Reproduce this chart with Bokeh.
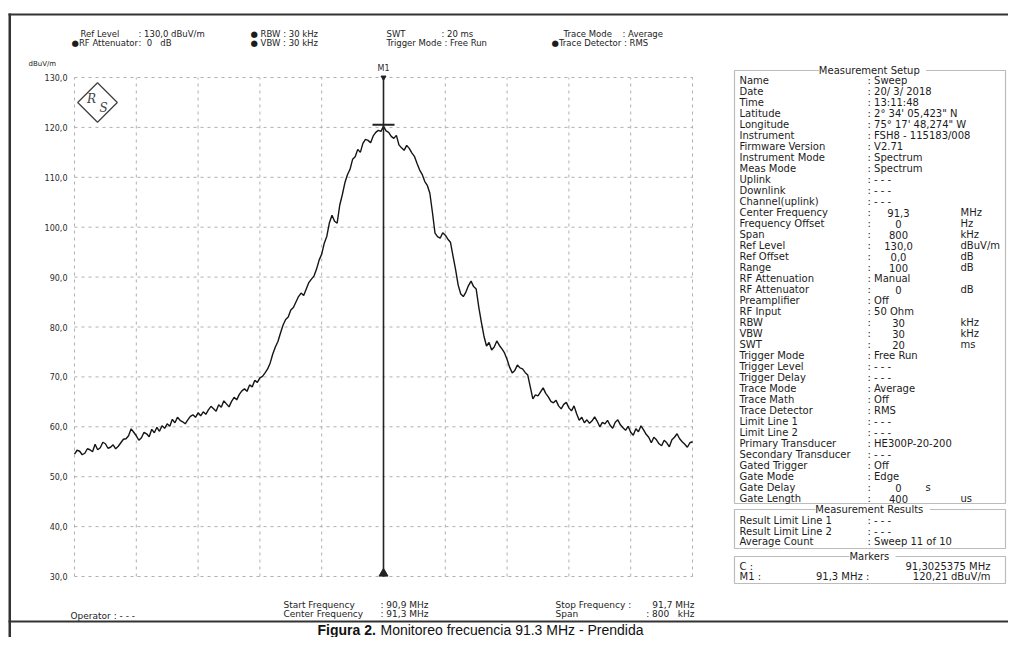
import numpy as np
from bokeh.plotting import figure
from bokeh.models import (Range1d, FixedTicker, CustomJSTickFormatter, Label, LabelSet,
                          ColumnDataSource, BoxAnnotation, LinearAxis)
from bokeh.core.properties import value
from bokeh.embed import file_html
from bokeh.resources import INLINE

# ---------------- data ----------------
start_mhz = 90.9
stop_mhz = 91.7
ref_level = 130.0
range_db = 100.0
marker_mhz = 91.3
marker_level = 120.21

trace_db = [
    54.5, 55.3, 55.1, 54.4, 54.7, 55.6, 55.4, 55.0, 56.5, 55.4,
    55.8, 56.9, 56.6, 55.7, 55.9, 56.4, 55.6, 56.1, 56.8, 57.5,
    57.6, 58.2, 59.6, 58.9, 58.2, 57.3, 57.8, 58.9, 58.6, 58.0,
    59.5, 58.8, 59.9, 59.1, 60.2, 59.7, 60.6, 60.1, 61.5, 60.8,
    61.9, 61.3, 61.0, 60.6, 61.4, 62.1, 62.4, 61.9, 62.8, 62.2,
    63.0, 62.5, 63.4, 64.1, 63.6, 63.1, 64.4, 63.9, 65.2, 64.6,
    64.0, 65.1, 65.9, 65.4, 66.5, 67.2, 67.6, 67.1, 68.4, 68.0,
    69.3, 68.9, 69.8, 70.1, 70.8, 71.6, 72.8, 74.6, 76.0, 77.1,
    78.8, 80.4, 81.5, 82.0, 83.4, 83.9, 85.0, 86.1, 86.8, 86.3,
    87.6, 88.9, 89.6, 90.2, 91.6, 93.4, 94.6, 96.8, 98.2, 100.9,
    102.4, 101.2, 100.8, 104.4, 106.5, 108.9, 110.5, 111.6, 113.6, 114.1,
    115.6, 115.0, 116.8, 117.6, 117.4, 116.9, 118.3, 119.0, 119.4, 119.2,
    120.21, 119.3, 119.0, 118.2, 117.8, 118.4, 116.5, 115.9, 115.4, 116.4,
    115.8, 114.9, 114.2, 112.8, 111.5, 110.6, 109.2, 108.4, 106.8, 103.0,
    98.8, 98.1, 97.8, 98.9, 98.4, 97.6, 97.0, 94.2, 91.5, 88.4,
    86.6, 86.1, 87.0, 88.3, 89.2, 88.1, 87.6, 84.0, 81.0, 78.2,
    76.2, 76.9, 75.4, 76.0, 77.2, 76.3, 75.6, 74.8, 73.5, 71.9,
    70.8, 71.3, 72.4, 71.8, 71.6, 70.9, 70.4, 68.0, 65.6, 66.4,
    66.2, 67.0, 67.8, 66.7, 66.0, 65.1, 64.8, 65.3, 64.2, 63.6,
    64.5, 64.9, 63.8, 63.2, 64.2, 62.6, 61.3, 61.9, 60.8, 61.4,
    60.7, 61.2, 62.0, 61.1, 60.0, 60.9, 60.6, 61.3, 60.3, 59.7,
    60.9, 61.4, 60.4, 59.8, 59.3, 60.1, 58.9, 58.3, 59.6, 59.0,
    60.2, 59.4, 58.5, 57.9, 56.8, 57.9, 57.4, 56.6, 56.2, 57.3,
    56.8, 56.0, 57.4, 57.9, 58.6, 57.6, 57.0, 56.5, 55.9, 56.8,
    57.0,
]
freq_mhz = np.linspace(start_mhz, stop_mhz, len(trace_db))

y_ticks = [30, 40, 50, 60, 70, 80, 90, 100, 110, 120, 130]
x_grid_ticks = [90.90, 90.98, 91.06, 91.14, 91.22, 91.30, 91.38, 91.46, 91.54, 91.62, 91.70]

NB = "\u00a0"
header_items = [
    ("Ref Level", ": 130,0 dBuV/m"),
    ("\u25cfRF Attenuator", ":" + NB * 2 + "0" + NB * 3 + "dB"),
    ("\u25cf RBW : 30 kHz", ""),
    ("\u25cf VBW : 30 kHz", ""),
    ("SWT", ": 20 ms"),
    ("Trigger Mode : Free Run", ""),
    ("Trace Mode", ": Average"),
    ("\u25cfTrace Detector : RMS", ""),
]

setup_labels = ["Name", "Date", "Time", "Latitude", "Longitude", "Instrument",
                "Firmware Version", "Instrument Mode", "Meas Mode", "Uplink", "Downlink",
                "Channel(uplink)", "Center Frequency", "Frequency Offset", "Span", "Ref Level",
                "Ref Offset", "Range", "RF Attenuation", "RF Attenuator", "Preamplifier",
                "RF Input", "RBW", "VBW", "SWT", "Trigger Mode", "Trigger Level", "Trigger Delay",
                "Trace Mode", "Trace Math", "Trace Detector", "Limit Line 1", "Limit Line 2",
                "Primary Transducer", "Secondary Transducer", "Gated Trigger", "Gate Mode",
                "Gate Delay", "Gate Length"]
setup_values = ["Sweep", "20/ 3/ 2018", "13:11:48", "2\u00b0 34' 05,423\" N",
                "75\u00b0 17' 48,274\" W", "FSH8 - 115183/008", "V2.71", "Spectrum", "Spectrum",
                "- - -", "- - -", "- - -", "91,3", "0", "800", "130,0", "0,0", "100", "Manual",
                "0", "Off", "50 Ohm", "30", "30", "20", "Free Run", "- - -", "- - -", "Average",
                "Off", "RMS", "- - -", "- - -", "HE300P-20-200", "- - -", "Off", "Edge", "0", "400"]
setup_units = ["", "", "", "", "", "", "", "", "", "", "", "", "MHz", "Hz", "kHz", "dBuV/m",
               "dB", "dB", "", "dB", "", "", "kHz", "kHz", "ms", "", "", "", "", "", "", "", "",
               "", "", "", "", "s", "us"]

result_labels = ["Result Limit Line 1", "Result Limit Line 2", "Average Count"]
result_values = [": - - -", ": - - -", ": Sweep 11 of 10"]

marker_rows = [("C  :", "", "91,3025375 MHz"), ("M1 :", "91,3 MHz  :", "120,21 dBuV/m")]

footer_left = [("Start Frequency", ": 90,9 MHz"), ("Center Frequency", ": 91,3 MHz")]
footer_right = [("Stop Frequency :", "91,7 MHz"), ("Span", ": 800" + NB * 3 + "kHz")]
operator_text = "Operator : - - -"
caption_bold = "Figura 2."
caption_rest = "Monitoreo frecuencia 91.3 MHz - Prendida"

# ---------------- layout (canvas pixels) ----------------
W, H = 1008, 637
GL, GR, GT, GB = 74, 692, 77, 576      # spectrum grid area
px_per_mhz = (GR - GL) / (stop_mhz - start_mhz)
db_per_px = range_db / (GB - GT)
y_bottom = ref_level - range_db

x_range = Range1d(start_mhz - GL / px_per_mhz, stop_mhz + (W - GR) / px_per_mhz)
y_range = Range1d(y_bottom - (H - GB) * db_per_px, ref_level + GT * db_per_px)


def sx(px):
    return px


def sy(py):
    return H - py


p = figure(width=W, height=H, x_range=x_range, y_range=y_range,
           x_axis_location=None, y_axis_location=None,
           toolbar_location=None, output_backend="svg",
           min_border_left=0, min_border_right=0, min_border_top=0, min_border_bottom=0)
p.outline_line_color = None
p.background_fill_color = "white"
p.border_fill_color = "white"
p.grid.visible = False

# y axis drawn at the left edge of the grid
ax = LinearAxis(fixed_location=start_mhz, ticker=FixedTicker(ticks=y_ticks),
                formatter=CustomJSTickFormatter(code="return tick.toFixed(1).replace('.', ',');"))
ax.axis_line_color = None
ax.major_tick_in = 0
ax.major_tick_out = 0
ax.minor_tick_line_color = None
ax.major_label_text_font = "DejaVu Sans"
ax.major_label_text_font_size = "8px"
ax.major_label_text_color = "#2a2a2a"
ax.major_label_standoff = 7
p.add_layout(ax, "left")

# grid lines
p.segment(x0=x_grid_ticks, y0=[y_bottom] * len(x_grid_ticks), x1=x_grid_ticks,
          y1=[ref_level] * len(x_grid_ticks), line_color="#b0b0b0", line_width=1,
          line_dash="3 4")
p.segment(x0=[start_mhz] * len(y_ticks), y0=y_ticks, x1=[stop_mhz] * len(y_ticks), y1=y_ticks,
          line_color="#b0b0b0", line_width=1, line_dash="3 4")

# trace
p.line(freq_mhz, trace_db, line_color="#151515", line_width=1.4)

# marker M1
p.segment(x0=[marker_mhz], y0=[y_bottom], x1=[marker_mhz], y1=[ref_level],
          line_color="#222222", line_width=1.6)
bar_half = 11 / px_per_mhz
p.segment(x0=[marker_mhz - bar_half], y0=[marker_level + 0.3], x1=[marker_mhz + bar_half],
          y1=[marker_level + 0.3], line_color="#222222", line_width=2)
p.scatter([marker_mhz], [y_bottom + 3 * db_per_px], marker="triangle", size=9,
          fill_color="#222222", line_color="#222222")
p.scatter([marker_mhz], [ref_level], marker="inverted_triangle", size=5,
          fill_color="#222222", line_color="#222222")
p.add_layout(Label(x=marker_mhz, y=sy(68), x_units="data", y_units="screen", text="M1",
                   text_align="center", text_baseline="middle", text_font="DejaVu Sans",
                   text_font_size="8px", text_color="#2a2a2a"))

# logo (R&S diamond)
logo_x = start_mhz + (97 - GL) / px_per_mhz
logo_y = ref_level - (102 - GT) * db_per_px
p.scatter([logo_x], [logo_y], marker="square", size=28, angle=np.pi / 4,
          fill_color="white", line_color="#444444", line_width=1.3)
p.add_layout(Label(x=sx(91), y=sy(98), x_units="screen", y_units="screen", text="R",
                   text_align="center", text_baseline="middle", text_font="DejaVu Serif",
                   text_font_style="italic", text_font_size="12px", text_color="#444444"))
p.add_layout(Label(x=sx(103), y=sy(107), x_units="screen", y_units="screen", text="S",
                   text_align="center", text_baseline="middle", text_font="DejaVu Serif",
                   text_font_style="italic", text_font_size="12px", text_color="#444444"))


def add_texts(rows, size, align="left", font="DejaVu Sans", color="#1c1c1c"):
    src = ColumnDataSource(dict(x=[sx(r[0]) for r in rows], y=[sy(r[1]) for r in rows],
                                t=[r[2] for r in rows]))
    p.add_layout(LabelSet(x="x", y="y", text="t", source=src, x_units="screen",
                          y_units="screen", text_font=value(font),
                          text_font_size=value(size), text_color=color,
                          text_align=align, text_baseline="middle"))


def add_box(l, r, t, b):
    p.add_layout(BoxAnnotation(left=sx(l), right=sx(r), top=sy(t), bottom=sy(b),
                               left_units="screen", right_units="screen",
                               top_units="screen", bottom_units="screen",
                               fill_color=None, fill_alpha=0, line_color="#222222",
                               line_width=1.2))


def add_rule(l, r, t, b):
    p.add_layout(BoxAnnotation(left=sx(l), right=sx(r), top=sy(t), bottom=sy(b),
                               left_units="screen", right_units="screen",
                               top_units="screen", bottom_units="screen",
                               fill_color="#333333", fill_alpha=1, line_color=None))


# page borders
add_rule(8, 1008, 13, 15)
add_rule(8, 10.5, 13, 637)
add_rule(8, 1008, 620, 622)

# header
hdr = [
    (80, 33, header_items[0][0]), (138, 33, header_items[0][1]),
    (71, 42, header_items[1][0]), (138, 42, header_items[1][1]),
    (250, 33, header_items[2][0]), (250, 42, header_items[3][0]),
    (386, 33, header_items[4][0]), (441, 33, header_items[4][1]),
    (386, 42, header_items[5][0]),
    (563, 33, header_items[6][0]), (622, 33, header_items[6][1]),
    (551, 42, header_items[7][0]),
]
add_texts(hdr, "8.5px")

# y unit label
add_texts([(28, 63, "dBuV/m")], "7px")

# measurement setup box
add_box(734, 1005, 70, 503)
row0, dy = 80, 11.0
lab_rows, txt_rows, num_rows, unit_rows = [], [], [], []
for i, (lab, val, unit) in enumerate(zip(setup_labels, setup_values, setup_units)):
    y = row0 + i * dy
    lab_rows.append((739, y, lab))
    if unit:
        txt_rows.append((867, y, ":"))
        num_rows.append((898, y, val))
        unit_rows.append((925 if unit == "s" else 960, y, unit))
    else:
        txt_rows.append((867, y, ": " + val))
FS = "10px"
add_texts(lab_rows, FS)
add_texts(txt_rows, FS)
add_texts(num_rows, FS, align="center")
add_texts(unit_rows, FS)

# measurement results box
add_box(734, 1005, 509, 548)
add_texts([(739, 520 + i * 10.5, t) for i, t in enumerate(result_labels)], FS)
add_texts([(867, 520 + i * 10.5, t) for i, t in enumerate(result_values)], FS)

# markers box
add_box(734, 1005, 556, 583)
add_texts([(739, 566 + i * 10, r[0]) for i, r in enumerate(marker_rows)], FS)
add_texts([(872, 566 + i * 10, r[1]) for i, r in enumerate(marker_rows)], FS, align="right")
add_texts([(990, 566 + i * 10, r[2]) for i, r in enumerate(marker_rows)], FS, align="right")

# box titles
for (x, y, t) in [(872, 70, " Measurement Setup "), (872, 509, " Measurement Results "),
                  (872, 556, " Markers ")]:
    p.add_layout(Label(x=sx(x), y=sy(y), x_units="screen", y_units="screen", text=t,
                       text_align="center", text_baseline="middle", text_font="DejaVu Sans",
                       text_font_size=FS, text_color="#1c1c1c",
                       background_fill_color="white", background_fill_alpha=1))

# footer
FF = "9px"
add_texts([(283, 604, footer_left[0][0]), (283, 613, footer_left[1][0]),
           (555, 604, footer_right[0][0]), (555, 613, footer_right[1][0]),
           (70, 615, operator_text)], FF)
add_texts([(428, 604, footer_left[0][1]), (428, 613, footer_left[1][1]),
           (694, 604, footer_right[0][1]), (694, 613, footer_right[1][1])], FF, align="right")

# caption
p.add_layout(Label(x=sx(317), y=sy(629), x_units="screen", y_units="screen",
                   text=caption_bold, text_align="left", text_baseline="middle",
                   text_font="Liberation Sans", text_font_style="bold",
                   text_font_size="14px", text_color="#111111"))
p.add_layout(Label(x=sx(380), y=sy(629), x_units="screen", y_units="screen",
                   text=caption_rest, text_align="left", text_baseline="middle",
                   text_font="Liberation Sans", text_font_size="14px",
                   text_color="#111111"))

open("out.html", "w").write(file_html(p, INLINE))
